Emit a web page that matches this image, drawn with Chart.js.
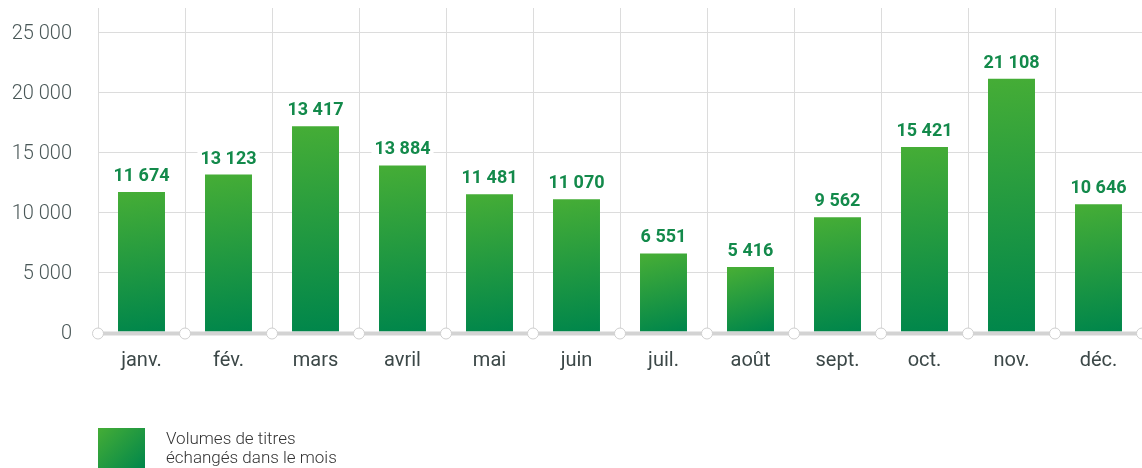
<!DOCTYPE html>
<html>
<head>
<meta charset="utf-8">
<script src="https://cdn.jsdelivr.net/npm/chart.js@4"></script>
<style>
  html, body { margin: 0; padding: 0; background: #fff; }
  #wrap { position: relative; width: 1142px; height: 468px; overflow: hidden; }
  #legend { position: absolute; left: 98px; top: 428px; display: flex; align-items: flex-start; }
  #legend .swatch { width: 47px; height: 40px; background: linear-gradient(135deg, #45ad36, #00864b); }
  #legend .text { margin-left: 21px; margin-top: 1px; font: 300 17px Roboto, sans-serif; line-height: 19px; color: #333; }
</style>
</head>
<body>
<div id="wrap">
  <canvas id="volChart" width="1142" height="468"></canvas>
  <div id="legend">
    <div class="swatch"></div>
    <div class="text">Volumes de titres<br>échangés dans le mois</div>
  </div>
</div>
<script>
const months = ['janv.', 'fév.', 'mars', 'avril', 'mai', 'juin', 'juil.', 'août', 'sept.', 'oct.', 'nov.', 'déc.'];
// bar heights as drawn (mars bar is drawn taller than its label says)
const volumes = [11674, 13123, 17150, 13884, 11481, 11070, 6551, 5416, 9562, 15421, 21108, 10646];
const volumeLabels = ['11 674', '13 123', '13 417', '13 884', '11 481', '11 070', '6 551', '5 416', '9 562', '15 421', '21 108', '10 646'];
const yTicks = [0, 5000, 10000, 15000, 20000, 25000];

function fmt(n) {
  return String(n).replace(/\B(?=(\d{3})+(?!\d))/g, ' ');
}

// value labels with white box behind them
const valueLabels = {
  id: 'valueLabels',
  afterDatasetsDraw(chart) {
    const c = chart.ctx;
    const meta = chart.getDatasetMeta(0);
    c.save();
    c.font = 'bold 18px Roboto, sans-serif';
    c.textAlign = 'center';
    c.textBaseline = 'alphabetic';
    meta.data.forEach((bar, i) => {
      const txt = volumeLabels[i];
      const w = c.measureText(txt).width;
      const yb = bar.y - 11;
      c.fillStyle = '#fff';
      c.fillRect(bar.x - w / 2 - 3, yb - 16, w + 6, 20);
      c.fillStyle = '#138a4b';
      c.fillText(txt, bar.x, yb);
    });
    c.restore();
  }
};

// thick baseline with little circles at each category boundary
const baseline = {
  id: 'baseline',
  afterDatasetsDraw(chart) {
    const c = chart.ctx;
    const area = chart.chartArea;
    const y = chart.scales.y.getPixelForValue(0) + 1.5;
    c.save();
    c.strokeStyle = '#d3d3d3';
    c.lineWidth = 4;
    c.beginPath();
    c.moveTo(area.left, y);
    c.lineTo(area.right, y);
    c.stroke();
    const step = (area.right - area.left) / months.length;
    for (let i = 0; i <= months.length; i++) {
      const x = area.left + i * step;
      c.beginPath();
      c.arc(x, y, 5.5, 0, Math.PI * 2);
      c.fillStyle = '#fff';
      c.fill();
      c.lineWidth = 1;
      c.strokeStyle = '#cfcfcf';
      c.stroke();
    }
    c.restore();
  }
};

const ctx = document.getElementById('volChart').getContext('2d');
const volChart = new Chart(ctx, {
  type: 'bar',
  data: {
    labels: months,
    datasets: [{
      data: volumes,
      backgroundColor: (context) => {
        const chart = context.chart;
        const sx = chart.scales.x, sy = chart.scales.y;
        if (!sx || !sy || context.raw === undefined) return '#2a9a40';
        const top = sy.getPixelForValue(context.raw);
        const bottom = sy.getPixelForValue(0);
        const x = sx.getPixelForValue(context.dataIndex);
        if (![top, bottom, x].every(Number.isFinite)) return '#2a9a40';
        const g = chart.ctx.createLinearGradient(x - 10, top, x + 10, bottom);
        g.addColorStop(0, '#45ad36');
        g.addColorStop(1, '#00864b');
        return g;
      },
      borderWidth: 0,
      barPercentage: 0.54,
      categoryPercentage: 1
    }]
  },
  options: {
    responsive: false,
    animation: false,
    layout: { padding: { top: 8, right: 0, left: 0, bottom: 0 } },
    plugins: {
      legend: { display: false },
      tooltip: { enabled: false }
    },
    scales: {
      x: {
        grid: { color: '#dcdcdc', lineWidth: 1, drawTicks: false, offset: true },
        border: { display: false },
        ticks: {
          color: '#3c4848',
          font: { family: 'Roboto', size: 20, weight: 400 },
          padding: 17
        },
        afterFit(scale) {
          scale.height = 136;
          scale.paddingLeft = 0;
          scale.paddingRight = 0;
        }
      },
      y: {
        min: 0,
        max: 27000,
        grid: { color: '#dcdcdc', lineWidth: 1, drawTicks: false },
        border: { display: false },
        afterBuildTicks(scale) {
          scale.ticks = yTicks.map(v => ({ value: v }));
        },
        ticks: {
          color: '#4a5858',
          font: { family: 'Roboto', size: 20, weight: 300 },
          padding: 26,
          labelOffset: 2,
          callback: (v) => fmt(v)
        },
        afterFit(scale) {
          scale.width = 98;
          scale.paddingTop = 0;
          scale.paddingBottom = 0;
        }
      }
    }
  },
  plugins: [baseline, valueLabels]
});
</script>
</body>
</html>
